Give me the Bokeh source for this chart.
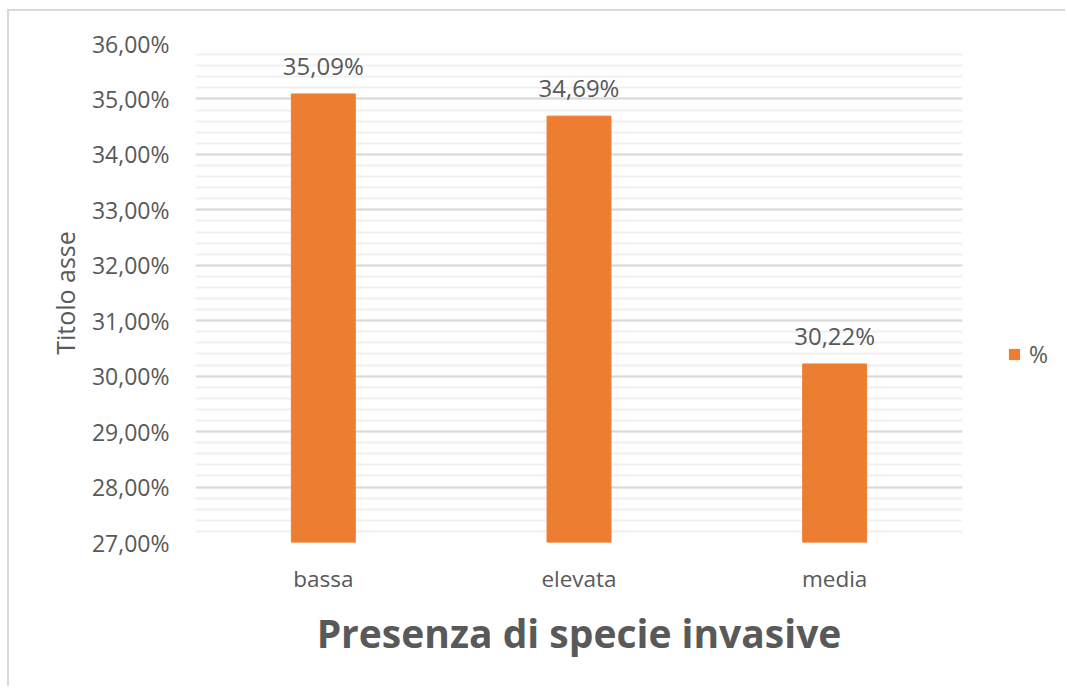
from bokeh.plotting import figure
from bokeh.layouts import row
from bokeh.models import (ColumnDataSource, FactorRange, Range1d, FixedTicker,
                          CustomJSTickFormatter, LabelSet, Legend, LegendItem)
from bokeh.core.properties import value
from bokeh.embed import file_html
from bokeh.resources import INLINE

categories = ["bassa", "elevata", "media"]
values = [35.09, 34.69, 30.22]
labels = ["35,09%", "34,69%", "30,22%"]
major_ticks = [27, 28, 29, 30, 31, 32, 33, 34, 35, 36]
series_name = "%"

FONT = "Open Sans"
TXT = "#595959"
BAR = "#ED7D31"

src = ColumnDataSource(dict(cat=categories, val=values, lab=labels,
                            base=[27] * len(values)))

p = figure(width=980, height=675, output_backend="svg", toolbar_location=None,
           x_range=FactorRange(factors=categories, range_padding=0),
           y_range=Range1d(27, 36))
p.min_border_left = 186
p.min_border_right = 27
p.min_border_top = 32
p.min_border_bottom = 144
p.outline_line_color = None
p.background_fill_color = "white"
p.border_fill_color = "white"

r = p.vbar(x="cat", top="val", bottom="base", width=0.25, source=src,
           fill_color=BAR, line_color=BAR)

minor = [27 + i * 0.2 for i in range(46)]
p.yaxis.ticker = FixedTicker(ticks=major_ticks, minor_ticks=minor)
p.yaxis.formatter = CustomJSTickFormatter(
    code="return tick.toFixed(2).replace('.', ',') + '%';")

p.ygrid.grid_line_color = "#d9d9d9"
p.ygrid.grid_line_width = 2
p.ygrid.minor_grid_line_color = "#f0f0f0"
p.ygrid.minor_grid_line_width = 2
p.xgrid.grid_line_color = None

for ax in (p.xaxis, p.yaxis):
    ax.axis_line_color = None
    ax.major_tick_line_color = None
    ax.minor_tick_line_color = None
    ax.major_label_text_font = FONT
    ax.major_label_text_color = TXT
    ax.major_label_text_font_size = "22.5px"
    ax.axis_label_text_font = FONT
    ax.axis_label_text_color = TXT
    ax.axis_label_text_font_style = "normal"

p.yaxis.major_label_text_font_size = "23px"
p.yaxis.axis_label = "Titolo asse"
p.yaxis.axis_label_text_font_size = "25px"
p.yaxis.major_label_standoff = 20
p.yaxis.axis_label_standoff = 7

p.xaxis.axis_label = "Presenza di specie invasive"
p.xaxis.axis_label_text_font_size = "39px"
p.xaxis.axis_label_text_font_style = "bold"
p.xaxis.major_label_standoff = 14
p.xaxis.axis_label_standoff = 9

ls = LabelSet(x="cat", y="val", text="lab", source=src, text_align="center",
              text_baseline="alphabetic", y_offset=19,
              text_font_size="24px", text_color=TXT, text_font=value(FONT))
p.add_layout(ls)

# legend panel (to the right of the plot area); its frame is aligned with p's
q = figure(width=76, height=675, output_backend="svg", toolbar_location=None,
           x_range=Range1d(0, 1), y_range=Range1d(0, 1),
           x_axis_location=None, y_axis_location=None, min_border=0)
q.outline_line_color = None
q.grid.visible = False
q.border_fill_color = "white"
swatch_src = ColumnDataSource(dict(x=[50], top=[50], bottom=[49]))
swatch = q.vbar(x="x", top="top", bottom="bottom", width=0.1, source=swatch_src,
                fill_color=BAR, line_color=None)
legend = Legend(items=[LegendItem(label=series_name, renderers=[swatch])],
                location=(18, 172), border_line_color=None,
                background_fill_alpha=0, label_text_font=FONT,
                label_text_color=TXT, label_text_font_size="23px",
                glyph_width=14, glyph_height=14, padding=2, margin=0,
                label_standoff=8)
q.add_layout(legend)

layout = row(p, q)
layout.styles = {"margin-left": "7px", "margin-top": "9px",
                 "border-left": "2px solid #d9d9d9",
                 "border-top": "2px solid #d9d9d9"}

open("out.html", "w").write(file_html(layout, INLINE))
